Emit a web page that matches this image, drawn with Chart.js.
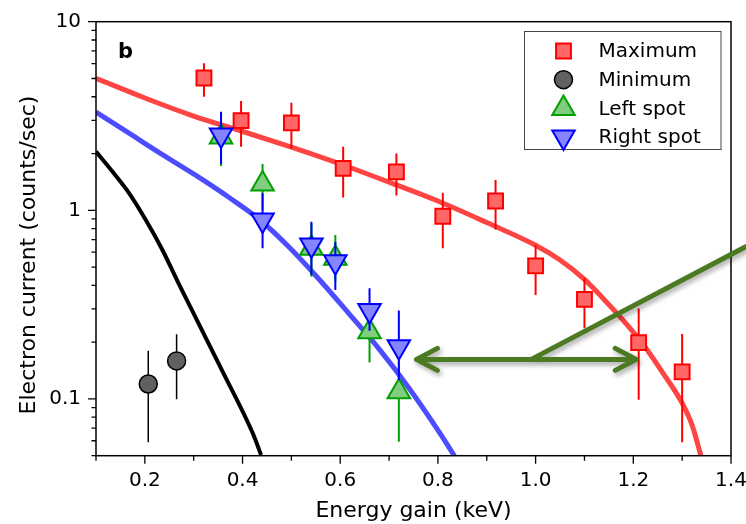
<!DOCTYPE html>
<html>
<head>
<meta charset="utf-8">
<script src="https://cdn.jsdelivr.net/npm/chart.js@4"></script>
<style>
  html, body { margin: 0; padding: 0; background: #fff; }
  #wrap { width: 746px; height: 524px; }
</style>
</head>
<body>
<div id="wrap"><canvas id="chart" width="746" height="524"></canvas></div>
<script>
// Measured points: energy gain (keV), current (counts/sec), error bar limits
const maxX  = [0.321, 0.397, 0.500, 0.606, 0.715, 0.810, 0.918, 1.000, 1.100, 1.211, 1.300];
const maxY  = [5.03, 2.99, 2.91, 1.67, 1.60, 0.93, 1.12, 0.507, 0.337, 0.199, 0.139];
const maxLo = [4.00, 2.17, 2.13, 1.17, 1.20, 0.63, 0.79, 0.356, 0.237, 0.099, 0.059];
const maxHi = [6.02, 3.80, 3.72, 2.17, 2.00, 1.24, 1.45, 0.655, 0.436, 0.302, 0.221];

const minX  = [0.207, 0.265];
const minY  = [0.120, 0.159];
const minLo = [0.059, 0.0996];
const minHi = [0.180, 0.220];

const leftX  = [0.356, 0.441, 0.541, 0.590, 0.660, 0.720];
const leftY  = [2.45, 1.38, 0.63, 0.557, 0.227, 0.109];
const leftLo = [1.72, 1.00, 0.445, 0.42, 0.156, 0.0593];
const leftHi = [3.30, 1.76, 0.85, 0.74, 0.29, 0.16];

const rightX  = [0.356, 0.441, 0.541, 0.590, 0.660, 0.720];
const rightY  = [2.51, 0.888, 0.655, 0.534, 0.294, 0.189];
const rightLo = [1.76, 0.629, 0.454, 0.378, 0.23, 0.126];
const rightHi = [3.33, 1.23, 0.87, 0.68, 0.386, 0.294];

// Model curves
const redCurveX = [0.10, 0.20, 0.30, 0.40, 0.50, 0.60, 0.70, 0.80, 0.90, 1.00, 1.05, 1.10, 1.14, 1.18, 1.22, 1.26, 1.30, 1.32, 1.339];
const redCurveY = [5.01, 3.94, 3.16, 2.62, 2.16, 1.76, 1.41, 1.12, 0.861, 0.653, 0.545, 0.43, 0.337, 0.26, 0.195, 0.138, 0.095, 0.073, 0.0494];

const blueCurveX = [0.100, 0.170, 0.231, 0.303, 0.374, 0.436, 0.497, 0.558, 0.620, 0.681, 0.742, 0.804, 0.834];
const blueCurveY = [3.32, 2.54, 2.01, 1.54, 1.162, 0.888, 0.631, 0.427, 0.279, 0.182, 0.113, 0.0659, 0.0498];

const blackCurveX = [0.100, 0.134, 0.168, 0.202, 0.236, 0.270, 0.298, 0.359, 0.421, 0.438];
const blackCurveY = [2.05, 1.60, 1.23, 0.888, 0.616, 0.405, 0.29, 0.14, 0.0657, 0.0504];

// Axis ticks
const xTicks = [0.1, 0.2, 0.3, 0.4, 0.5, 0.6, 0.7, 0.8, 0.9, 1.0, 1.1, 1.2, 1.3, 1.4];
const xLabels = ['0.2', '0.4', '0.6', '0.8', '1.0', '1.2', '1.4'];
const yMajor = [0.1, 1, 10];
const yLabels = ['0.1', '1', '10'];

// Annotation arrow (data units)
const arrowY = 0.162;
const arrowX = [0.756, 1.206];
const pointerFrom = [0.991, 0.162];
const pointerTo = [1.43, 0.641];

const pts = (xs, ys) => xs.map((v, i) => ({ x: v, y: ys[i] }));

function yTickValues() {
    const out = [];
    [0.01, 0.1, 1].forEach(dec => {
        for (let m = 1; m <= 9; m++) {
            const v = +(m * dec).toPrecision(3);
            if (v >= 0.05 && v <= 10) out.push(v);
        }
    });
    out.push(10);
    return out;
}

const xLabelFor = v => {
    const s = v.toFixed(1);
    return xLabels.includes(s) ? s : '';
};
const yLabelFor = v => {
    const i = yMajor.findIndex(m => Math.abs(m - v) < 1e-9);
    return i >= 0 ? yLabels[i] : '';
};

// error bars under each marker set
const errorBars = {
    id: 'errorBars',
    beforeDatasetDraw(chart, args) {
        const ds = chart.data.datasets[args.index];
        if (!ds.errLo) return;
        const { ctx, scales: { x, y } } = chart;
        ctx.save();
        ctx.beginPath();
        ctx.rect(chart.chartArea.left, chart.chartArea.top,
                 chart.chartArea.right - chart.chartArea.left,
                 chart.chartArea.bottom - chart.chartArea.top);
        ctx.clip();
        ctx.strokeStyle = ds.errColor;
        ctx.lineWidth = ds.errWidth;
        ctx.beginPath();
        ds.data.forEach((p, i) => {
            const px = x.getPixelForValue(p.x);
            ctx.moveTo(px, y.getPixelForValue(ds.errLo[i]));
            ctx.lineTo(px, y.getPixelForValue(ds.errHi[i]));
        });
        ctx.stroke();
        ctx.restore();
    }
};

// frame, outward ticks, panel letter, y title, legend and arrow
const decorations = {
    id: 'decorations',
    afterDraw(chart) {
        const { ctx, chartArea: a, scales: { x, y } } = chart;
        ctx.save();
        ctx.strokeStyle = '#000';
        ctx.lineWidth = 1.5;
        ctx.strokeRect(a.left, a.top, a.right - a.left, a.bottom - a.top);

        ctx.beginPath();
        x.ticks.forEach(t => {
            const px = x.getPixelForValue(t.value);
            const len = xLabelFor(t.value) ? 8 : 5;
            ctx.moveTo(px, a.bottom);
            ctx.lineTo(px, a.bottom + len);
        });
        y.ticks.forEach(t => {
            const py = y.getPixelForValue(t.value);
            const len = yLabelFor(t.value) ? 8 : 4.5;
            ctx.moveTo(a.left, py);
            ctx.lineTo(a.left - len, py);
        });
        ctx.lineWidth = 1.3;
        ctx.stroke();

        // panel letter
        ctx.fillStyle = '#000';
        ctx.font = 'bold 21px "DejaVu Sans"';
        ctx.textAlign = 'left';
        ctx.textBaseline = 'alphabetic';
        ctx.fillText('b', a.left + 22, a.top + 36);

        // y axis title
        ctx.save();
        ctx.translate(34.5, 255);
        ctx.rotate(-Math.PI / 2);
        ctx.font = '22px "DejaVu Sans"';
        ctx.textAlign = 'center';
        ctx.fillText('Electron current (counts/sec)', 0, 0);
        ctx.restore();

        // legend box
        const lx = 524.5, ly = 31.5, lw = 196.5, lh = 118;
        ctx.fillStyle = '#fff';
        ctx.fillRect(lx, ly, lw, lh);
        ctx.strokeStyle = '#444';
        ctx.lineWidth = 1;
        ctx.strokeRect(lx, ly, lw, lh);
        const order = ['Maximum', 'Minimum', 'Left spot', 'Right spot'];
        order.forEach((name, i) => {
            const ds = chart.data.datasets.find(d => d.label === name);
            const cy = ly + 19.5 + i * 28.7;
            ctx.fillStyle = ds.backgroundColor;
            ctx.strokeStyle = ds.borderColor;
            ctx.lineWidth = ds.borderWidth;
            Chart.helpers.drawPoint(ctx, {
                pointStyle: ds.pointStyle,
                rotation: ds.rotation || 0,
                radius: ds.pointRadius,
                borderWidth: ds.borderWidth
            }, lx + 39, cy);
            ctx.fillStyle = '#000';
            ctx.font = '20px "DejaVu Sans"';
            ctx.textAlign = 'left';
            ctx.textBaseline = 'middle';
            ctx.fillText(name, lx + 74, cy + 1);
        });

        // green double arrow with pointer line
        const y0 = y.getPixelForValue(arrowY);
        const xl = x.getPixelForValue(arrowX[0]);
        const xr = x.getPixelForValue(arrowX[1]);
        const p0x = x.getPixelForValue(pointerFrom[0]), p0y = y.getPixelForValue(pointerFrom[1]);
        const p1x = x.getPixelForValue(pointerTo[0]), p1y = y.getPixelForValue(pointerTo[1]);
        ctx.strokeStyle = '#4b7a22';
        ctx.lineWidth = 5;
        ctx.lineCap = 'round';
        ctx.lineJoin = 'round';
        ctx.shadowColor = 'rgba(0,0,0,0.35)';
        ctx.shadowBlur = 5;
        ctx.shadowOffsetX = 2;
        ctx.shadowOffsetY = 3;
        ctx.beginPath();
        ctx.moveTo(xl, y0);
        ctx.lineTo(xr, y0);
        ctx.moveTo(xl + 21, y0 - 11);
        ctx.lineTo(xl, y0);
        ctx.lineTo(xl + 21, y0 + 11);
        ctx.moveTo(xr - 21, y0 - 11);
        ctx.lineTo(xr, y0);
        ctx.lineTo(xr - 21, y0 + 11);
        ctx.moveTo(p0x, p0y);
        ctx.lineTo(p1x, p1y);
        ctx.stroke();
        ctx.restore();
    }
};

const ctx = document.getElementById('chart').getContext('2d');
const chart = new Chart(ctx, {
    type: 'scatter',
    data: {
        datasets: [
            {
                label: 'Right spot',
                data: pts(rightX, rightY),
                errLo: rightLo, errHi: rightHi, errColor: '#0000ff', errWidth: 2,
                pointStyle: 'triangle', rotation: 180, pointRadius: 13,
                backgroundColor: '#8585ff', borderColor: '#0000ff', borderWidth: 2
            },
            {
                label: 'Left spot',
                data: pts(leftX, leftY),
                errLo: leftLo, errHi: leftHi, errColor: '#00a000', errWidth: 2,
                pointStyle: 'triangle', pointRadius: 13,
                backgroundColor: '#80cc80', borderColor: '#00a000', borderWidth: 2
            },
            {
                label: 'Minimum',
                data: pts(minX, minY),
                errLo: minLo, errHi: minHi, errColor: '#000000', errWidth: 1.5,
                pointStyle: 'circle', pointRadius: 9,
                backgroundColor: '#606060', borderColor: '#000000', borderWidth: 1.5
            },
            {
                label: 'Maximum',
                data: pts(maxX, maxY),
                errLo: maxLo, errHi: maxHi, errColor: '#ff0000', errWidth: 2,
                pointStyle: 'rect', pointRadius: 10.5,
                backgroundColor: '#ff6666', borderColor: '#ff0000', borderWidth: 2
            },
            {
                label: 'Maximum model',
                data: pts(redCurveX, redCurveY),
                showLine: true, pointRadius: 0, borderColor: '#ff4444', borderWidth: 5,
                cubicInterpolationMode: 'monotone'
            },
            {
                label: 'Spot model',
                data: pts(blueCurveX, blueCurveY),
                showLine: true, pointRadius: 0, borderColor: '#4d4dff', borderWidth: 5,
                cubicInterpolationMode: 'monotone'
            },
            {
                label: 'Minimum model',
                data: pts(blackCurveX, blackCurveY),
                showLine: true, pointRadius: 0, borderColor: '#000000', borderWidth: 4,
                cubicInterpolationMode: 'monotone'
            }
        ]
    },
    options: {
        responsive: false,
        animation: false,
        events: [],
        layout: { padding: { top: 21.7, right: 14.4, bottom: 0, left: 0 } },
        plugins: {
            legend: { display: false },
            tooltip: { enabled: false }
        },
        scales: {
            x: {
                type: 'linear',
                min: 0.1,
                max: 1.4,
                grid: { display: false, drawTicks: false, tickLength: 0 },
                border: { display: false },
                afterBuildTicks: s => { s.ticks = xTicks.map(v => ({ value: v })); },
                afterFit: s => { s.height = 68.3; s.paddingLeft = 0; s.paddingRight = 0; },
                ticks: {
                    autoSkip: false,
                    maxRotation: 0,
                    padding: 13,
                    color: '#000',
                    font: { family: 'DejaVu Sans', size: 20 },
                    callback: v => xLabelFor(v)
                },
                title: {
                    display: true,
                    text: 'Energy gain (keV)',
                    color: '#000',
                    font: { family: 'DejaVu Sans', size: 22 },
                    padding: { top: 0, bottom: 0 }
                }
            },
            y: {
                type: 'logarithmic',
                min: 0.05,
                max: 10,
                grid: { display: false, drawTicks: false, tickLength: 0 },
                border: { display: false },
                afterBuildTicks: s => { s.ticks = yTickValues().map(v => ({ value: v })); },
                afterFit: s => { s.width = 96; s.paddingTop = 0; s.paddingBottom = 0; },
                ticks: {
                    autoSkip: false,
                    padding: 15,
                    color: '#000',
                    font: { family: 'DejaVu Sans', size: 20 },
                    callback: v => yLabelFor(v)
                }
            }
        }
    },
    plugins: [errorBars, decorations]
});
</script>
</body>
</html>
